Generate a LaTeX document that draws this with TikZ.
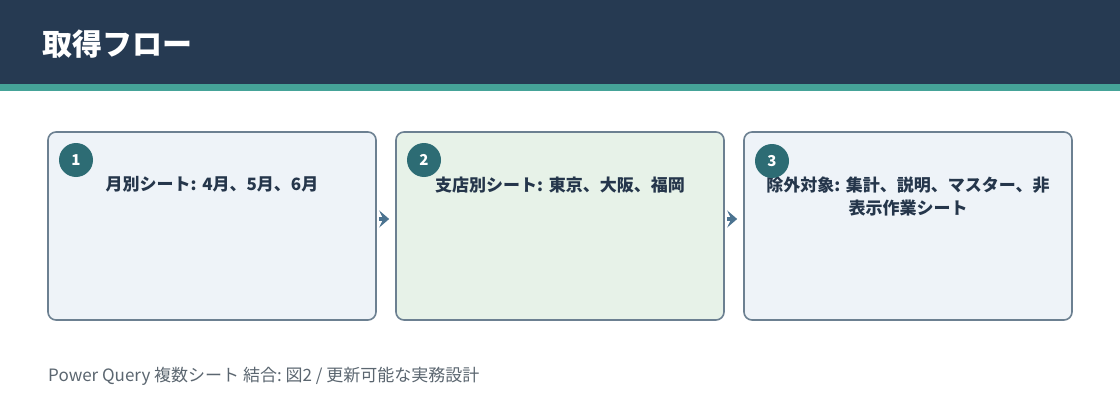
\documentclass[tikz,border=0pt]{standalone}
\usepackage{fontspec}
\setmainfont{Noto Sans CJK JP}
\frenchspacing
\usetikzlibrary{arrows.meta}
\definecolor{headbg}{HTML}{263A52}
\definecolor{stripe}{HTML}{45A398}
\definecolor{boxline}{HTML}{6C8091}
\definecolor{boxblue}{HTML}{EEF3F8}
\definecolor{boxgreen}{HTML}{E7F2E8}
\definecolor{badge}{HTML}{2D6C74}
\definecolor{txt}{HTML}{25364B}
\definecolor{foot}{HTML}{5B6670}
\definecolor{arrowc}{HTML}{4B7390}
\tikzset{
  stepbox/.style={draw=boxline, line width=1.6pt, rounded corners=8pt, minimum width=328pt, minimum height=188pt, inner sep=0pt},
  badgenode/.style={circle, fill=badge, minimum size=34pt, inner sep=0pt, text=white, font=\fontsize{15}{16}\selectfont\bfseries},
  boxtext/.style={anchor=north, text width=320pt, align=center, text=txt, font=\fontsize{17}{23}\selectfont\bfseries\frenchspacing},
  flowarrow/.style={draw=arrowc, line width=3.5pt, -{Stealth[length=10pt,width=17pt,inset=4pt]}, shorten <=2pt, shorten >=6pt}
}
\begin{document}
\begin{tikzpicture}[x=1pt,y=-1pt]
\useasboundingbox (0,0) rectangle (1120,420);
\fill[white] (0,0) rectangle (1120,420);
\fill[headbg] (0,0) rectangle (1120,84);
\fill[stripe] (0,84) rectangle (1120,91);
\node[anchor=west, text=white, font=\fontsize{30}{32}\selectfont\bfseries, inner sep=0pt] (title) at (42,44) {取得フロー};

\node[stepbox, fill=boxblue] (b1) at (212,226) {};
\node[stepbox, fill=boxgreen] (b2) at (560,226) {};
\node[stepbox, fill=boxblue] (b3) at (908,226) {};

\node[boxtext] (t1) at (212,173) {月別シート: 4月、5月、6月};
\node[boxtext] (t2) at (560,173) {支店別シート: 東京、大阪、福岡};
\node[boxtext] (t3) at (908,173) {除外対象: 集計、説明、マスター、非\\表示作業シート};

\node[badgenode] (n1) at (76,160) {1};
\node[badgenode] (n2) at (424,160) {2};
\node[badgenode] (n3) at (772,161) {3};

\draw[flowarrow] (b1.east |- 0,219) -- (b2.west |- 0,219);
\draw[flowarrow] (b2.east |- 0,219) -- (b3.west |- 0,219);

\node[anchor=west, text=foot, font=\fontsize{17}{18}\selectfont\frenchspacing, inner sep=0pt] (footer) at (48,376) {Power Query 複数シート 結合: 図2 / 更新可能な実務設計};
\end{tikzpicture}
\end{document}
